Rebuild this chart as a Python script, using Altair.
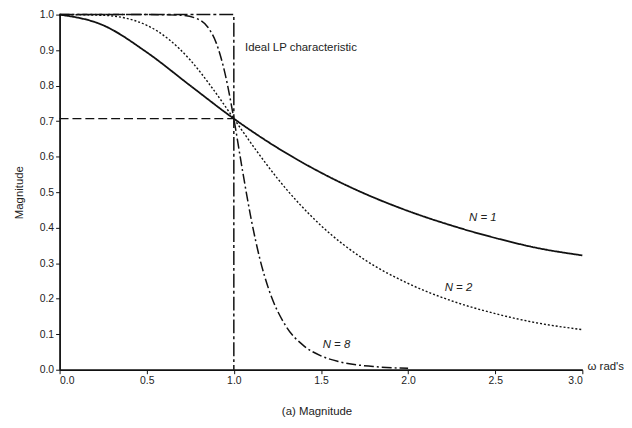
import altair as alt
import pandas as pd

# values
w1 = [0.0, 0.25, 0.5, 0.75, 1.0, 1.25, 1.5, 1.75, 2.0, 2.25, 2.5, 2.75, 3.0]
m1 = [1.0, 0.970, 0.894, 0.800, 0.707, 0.625, 0.555, 0.496, 0.447, 0.406, 0.371, 0.342, 0.322]
w2 = [0.0, 0.25, 0.5, 0.625, 0.75, 0.875, 1.0, 1.125, 1.25, 1.5, 1.75, 2.0, 2.25, 2.5, 2.75, 3.0]
m2 = [1.0, 0.998, 0.970, 0.931, 0.872, 0.794, 0.707, 0.620, 0.539, 0.406, 0.310, 0.243, 0.194, 0.158, 0.131, 0.113]
w8 = [0.0, 0.5, 0.7, 0.8, 0.85, 0.9, 0.95, 1.0, 1.05, 1.1, 1.15, 1.2, 1.3, 1.4, 1.5, 1.6, 1.8, 2.0]
m8 = [1.0, 1.0, 0.998, 0.986, 0.965, 0.919, 0.833, 0.707, 0.560, 0.423, 0.311, 0.227, 0.122, 0.068, 0.039, 0.023, 0.009, 0.004]
ideal_w = [0.0, 1.0, 1.0]
ideal_m = [1.0, 1.0, 0.0]
half_w = [0.0, 1.0]
half_m = [0.707, 0.707]
x_ticks = [0.0, 0.5, 1.0, 1.5, 2.0, 2.5, 3.0]
y_ticks = [0.0, 0.1, 0.2, 0.3, 0.4, 0.5, 0.6, 0.7, 0.8, 0.9, 1.0]

ann_text = ["Ideal LP characteristic", "N = 1", "N = 2", "N = 8", "ω rad's"]
ann_w = [1.064, 2.35, 2.21, 1.51, 3.03]
ann_m = [0.905, 0.427, 0.229, 0.07, 0.008]
ann_style = ["normal", "italic", "italic", "italic", "normal"]

FONT = "Liberation Sans"
X = alt.X("w:Q", scale=alt.Scale(domain=[0, 3], nice=False),
          axis=alt.Axis(values=x_ticks, format=".1f", title="(a) Magnitude",
                        titlePadding=20, titleX=259, grid=False))
Y = alt.Y("m:Q", scale=alt.Scale(domain=[0, 1], nice=False),
          axis=alt.Axis(values=y_ticks, format=".1f", title="Magnitude",
                        titlePadding=15, grid=False))

def line(ws, ms, dash, width, order=False):
    df = pd.DataFrame({"w": ws, "m": ms, "i": list(range(len(ws)))})
    enc = dict(x=X, y=Y)
    if order:
        enc["order"] = alt.Order("i:Q")
    mk = alt.Chart(df).mark_line(color="#111", strokeWidth=width,
                                 interpolate="linear" if order else "monotone",
                                 strokeDash=dash)
    return mk.encode(**enc)

l1 = line(w1, m1, [1, 0], 1.8)
l2 = line(w2, m2, [2, 2], 1.4)
l8 = line(w8, m8, [10, 3, 2, 3], 1.5)
ideal = line(ideal_w, ideal_m, [14, 3, 3, 3], 1.5, order=True)
half = line(half_w, half_m, [9, 4], 1.4, order=True)

ann = pd.DataFrame({"w": ann_w, "m": ann_m, "t": ann_text, "s": ann_style})
texts = []
for s in ["normal", "italic"]:
    texts.append(alt.Chart(ann[ann.s == s]).mark_text(
        align="left", baseline="middle", font=FONT, fontSize=11.5,
        fontStyle=s, color="#222").encode(x=X, y=Y, text="t:N"))

chart = alt.layer(ideal, half, l1, l2, l8, *texts).properties(
    width=527, height=358,
    autosize=alt.AutoSizeParams(type="none"),
    padding={"left": 52, "top": 5, "right": 42, "bottom": 46},
).configure_view(stroke=None).configure_axis(
    domainColor="#111", tickColor="#111", labelColor="#222", titleColor="#222",
    labelFont=FONT, titleFont=FONT, labelFontSize=10.5, titleFontSize=11.5,
    titleFontWeight="normal", tickSize=4, domainWidth=1.8
)

chart.save("out.html", embed_options={"renderer": "svg", "actions": False})
